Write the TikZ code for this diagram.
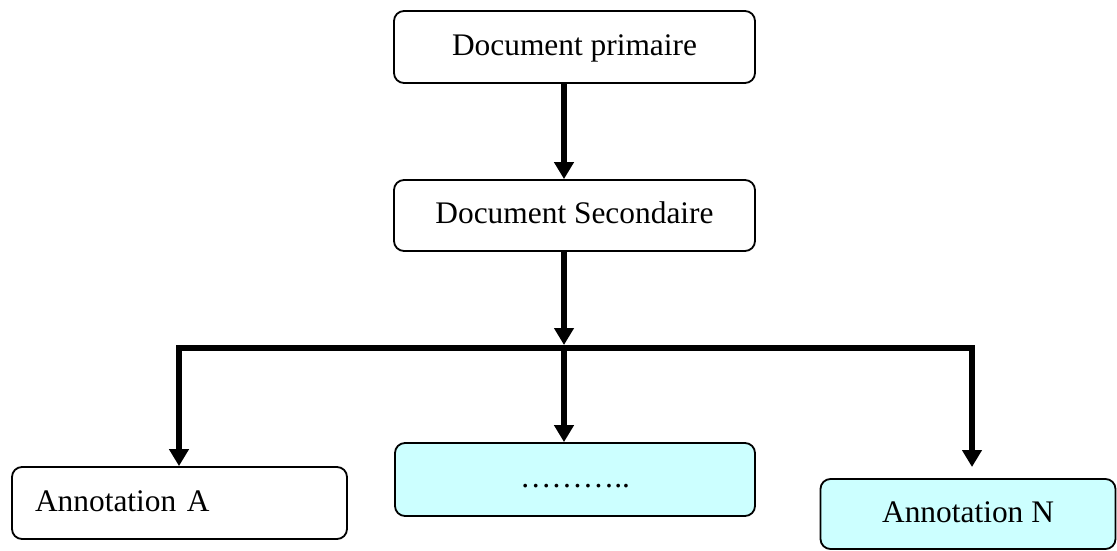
\documentclass[tikz,border=0pt]{standalone}
\usepackage{fontspec}
\setmainfont{Liberation Serif}
\usetikzlibrary{arrows.meta}
\definecolor{lightcyan}{RGB}{204,255,255}
\begin{document}
\begin{tikzpicture}[x=1pt,y=-1pt,
  box/.style={draw=black, line width=1.8pt, rounded corners=10pt, inner sep=0pt,
    text height=16pt, text depth=0pt, font=\fontsize{31.4}{36}\selectfont},
  arr/.style={line width=6pt, -{Triangle[width=19pt,length=17pt]}},
  bar/.style={line width=6pt, line cap=rect}]
\useasboundingbox (0,0) rectangle (1117,550);
\node[box, minimum width=361pt, minimum height=72pt] (b1) at (574.5,47) {Document primaire};
\node[box, minimum width=361pt, minimum height=71pt] (b2) at (574.5,215.5) {Document Secondaire};
\node[box, minimum width=335pt, minimum height=72pt, text width=289pt, align=left] (bA) at (179.5,503) {Annotation A};
\node[box, fill=lightcyan, minimum width=360pt, minimum height=73pt] (bM) at (575,479.5) {………..};
\node[box, fill=lightcyan, minimum width=295pt, minimum height=70pt] (bN) at (968,514) {Annotation N};
\coordinate (j) at (564,348);
\coordinate (la) at (179,348);
\coordinate (ra) at (972,348);
\draw[arr] (b1.south -| j) -- (b2.north -| j);
\draw[arr, shorten >=3pt] (b2.south -| j) -- (j);
\draw[bar] (la) -- (ra);
\draw[arr] (la) -- (bA.north -| la);
\draw[arr] (j) -- (bM.north -| j);
\draw[arr] (ra) -- (ra |- 0,467);
\end{tikzpicture}
\end{document}
